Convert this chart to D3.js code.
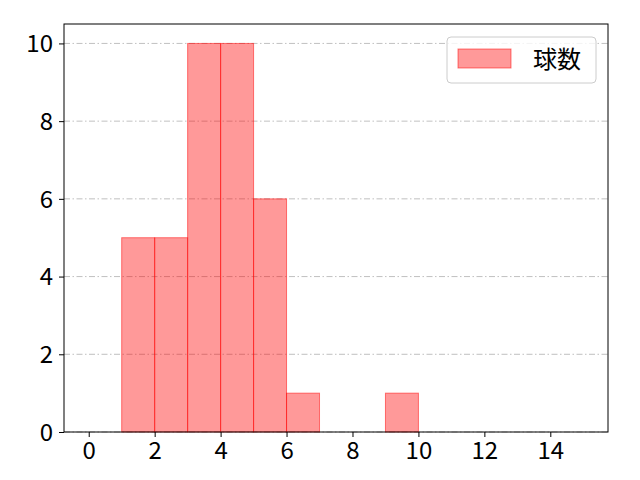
<!DOCTYPE html>
<html>
<head>
<meta charset="utf-8">
<script src="https://cdn.jsdelivr.net/npm/d3@7"></script>
<style>
  body { margin: 0; background: #fff; }
  text { font-family: "Noto Sans CJK JP", "Noto Sans", sans-serif; }
</style>
</head>
<body>
<div id="viz"></div>
<script>
// histogram data: bin edges and counts per bin
const binEdges = [0, 1, 2, 3, 4, 5, 6, 7, 8, 9, 10, 11, 12, 13, 14, 15];
const counts = [0, 5, 5, 10, 10, 6, 1, 0, 0, 1, 0, 0, 0, 0, 0];
const xTicks = [0, 2, 4, 6, 8, 10, 12, 14];
const yTicks = [0, 2, 4, 6, 8, 10];
const seriesName = "球数";

const W = 640, H = 480;
const m = { left: 64, right: 32, top: 24, bottom: 48 };

const svg = d3.select("#viz").append("svg")
  .attr("width", W)
  .attr("height", H);

// x gets 5% padding either side like matplotlib
const x = d3.scaleLinear().domain([-0.75, 15.75]).range([m.left, W - m.right]);
const y = d3.scaleLinear().domain([0, 10.5]).range([H - m.bottom, m.top]);

// horizontal dash-dot grid
svg.append("g")
  .selectAll("line")
  .data(yTicks)
  .enter().append("line")
  .attr("x1", m.left).attr("x2", W - m.right)
  .attr("y1", d => y(d)).attr("y2", d => y(d))
  .attr("stroke", "#b0b0b0")
  .attr("stroke-width", 0.8)
  .attr("stroke-dasharray", "6,2.5,1.5,2.5");

// bars
const bins = counts.map((c, i) => ({ x0: binEdges[i], x1: binEdges[i + 1], n: c }));
svg.append("g")
  .selectAll("rect")
  .data(bins.filter(d => d.n > 0))
  .enter().append("rect")
  .attr("x", d => x(d.x0))
  .attr("width", d => x(d.x1) - x(d.x0))
  .attr("y", d => y(d.n))
  .attr("height", d => y(0) - y(d.n))
  .attr("fill", "red")
  .attr("fill-opacity", 0.4)
  .attr("stroke", "red")
  .attr("stroke-opacity", 0.5)
  .attr("stroke-width", 1);

// axes
const xAxis = svg.append("g")
  .attr("transform", `translate(0,${H - m.bottom})`)
  .call(d3.axisBottom(x).tickValues(xTicks).tickSize(5).tickPadding(5).tickFormat(d3.format("d")));
const yAxis = svg.append("g")
  .attr("transform", `translate(${m.left},0)`)
  .call(d3.axisLeft(y).tickValues(yTicks).tickSize(5).tickPadding(6).tickFormat(d3.format("d")));

[xAxis, yAxis].forEach(g => {
  g.select(".domain").remove();
  g.selectAll("line").attr("stroke", "#000").attr("stroke-width", 1);
  g.selectAll("text").attr("fill", "#000").style("font-size", "24px")
    .style("font-family", '"Noto Sans CJK JP", sans-serif');
});
yAxis.selectAll("text").attr("dy", "0.35em");

// frame
svg.append("rect")
  .attr("x", m.left).attr("y", m.top)
  .attr("width", W - m.left - m.right)
  .attr("height", H - m.top - m.bottom)
  .attr("fill", "none")
  .attr("stroke", "#000")
  .attr("stroke-width", 1);

// legend
const lg = svg.append("g").attr("transform", "translate(447,37)");
lg.append("rect")
  .attr("width", 149).attr("height", 46)
  .attr("rx", 4)
  .attr("fill", "#fff").attr("fill-opacity", 0.8)
  .attr("stroke", "#cccccc");
lg.append("rect")
  .attr("x", 11).attr("y", 12)
  .attr("width", 53).attr("height", 19)
  .attr("fill", "red").attr("fill-opacity", 0.4)
  .attr("stroke", "red").attr("stroke-opacity", 0.5);
lg.append("text")
  .attr("x", 86).attr("y", 31)
  .style("font-size", "24px")
  .text(seriesName);
</script>
</body>
</html>
